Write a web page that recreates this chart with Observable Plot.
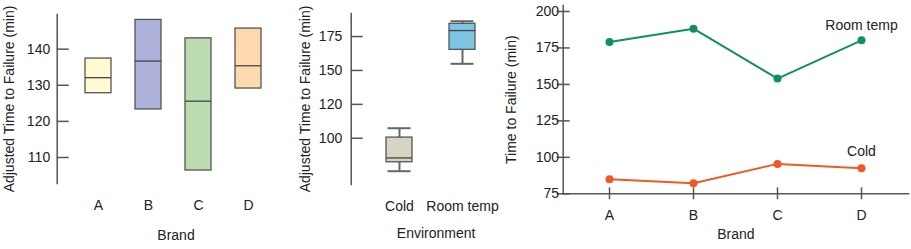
<!DOCTYPE html>
<html><head><meta charset="utf-8">
<script src="https://cdn.jsdelivr.net/npm/d3@7"></script>
<script src="https://cdn.jsdelivr.net/npm/@observablehq/plot@0.6"></script>
<style>
body{margin:0;background:#fff;}
#wrap{position:relative;width:911px;height:249px;overflow:hidden;}
#wrap > div{position:absolute;top:0;}
#p1{left:0;width:295px;} #p2{left:280px;width:241px;} #p3{left:490px;width:421px;}
</style></head><body><div id="wrap"><div id="p1"></div><div id="p2"></div><div id="p3"></div></div>
<script>
// ---- Panel 1: brand boxes (adjusted) ----
const brands = ["A", "B", "C", "D"];
const brandQ1 = [127.8, 123.3, 106.4, 129.1];
const brandMedian = [132.1, 136.7, 125.6, 135.4];
const brandQ3 = [137.4, 148.1, 143.0, 145.7];
const brandColors = ["#fffad2", "#aeb2da", "#b9dcb1", "#ffd9ae"];
const brandTicks = [110, 120, 130, 140];

// ---- Panel 2: environment boxplots ----
const envs = ["Cold", "Room temp"];
const envMin = [75.7, 154.9];
const envQ1 = [82.3, 165.2];
const envMedian = [85.5, 179.4];
const envQ3 = [100.5, 184.4];
const envMax = [107.4, 186.3];
const envColors = ["#d7d4c3", "#7ec4e3"];
const envTickValues = [100, 125, 150, 175];
const envTickLabels = ["100", "120", "150", "175"];

// ---- Panel 3: interaction plot ----
const series = ["Room temp", "Cold"];
const roomTemp = [179.1, 188.2, 154.0, 180.2];
const cold = [85.0, 82.3, 95.5, 92.5];
const seriesColors = ["#11905f", "#f05a22"];
const interTicks = [75, 100, 125, 150, 175, 200];

const FONT = '"Liberation Sans", Arial, sans-serif';
const axisColor = "#555";
const textColor = "#222";
const baseStyle = {fontSize: "14px", fontFamily: FONT, color: textColor, background: "transparent", overflow: "visible", maxWidth: "none"};

// Panel 1
const boxes1 = brands.map((b, i) => ({brand: b, q1: brandQ1[i], med: brandMedian[i], q3: brandQ3[i]}));
const p1 = Plot.plot({
  width: 295, height: 249, marginLeft: 56.7, marginRight: 0.7, marginTop: 14, marginBottom: 66,
  style: baseStyle,
  x: {type: "band", domain: brands, range: [73, 273], paddingInner: 0.48, paddingOuter: 0.24},
  y: {domain: [102.8, 149.6]},
  color: {type: "ordinal", domain: brands, range: brandColors},
  marks: [
    Plot.frame({anchor: "left", stroke: axisColor, strokeWidth: 1.5}),
    Plot.axisY({ticks: brandTicks, tickSize: 12, dx: 12, tickFormat: () => "", label: null, stroke: axisColor, strokeWidth: 1.5}),
    Plot.axisY({ticks: brandTicks, tickSize: 0, tickPadding: 7, label: "Adjusted Time to Failure (min)", labelAnchor: "center", labelOffset: 53, labelArrow: "none", fill: textColor}),
    Plot.axisX({tickSize: 0, tickPadding: 17, label: "Brand", labelAnchor: "center", labelOffset: 56, fill: textColor}),
    Plot.rectY(boxes1, {x: "brand", y1: "q1", y2: "q3", fill: "brand", stroke: "#555", strokeWidth: 1.3}),
    Plot.tickY(boxes1, {x: "brand", y: "med", stroke: "#444", strokeWidth: 1.3})
  ]
});
document.getElementById("p1").append(p1);

// Panel 2
const boxes2 = envs.map((e, i) => ({env: e, min: envMin[i], q1: envQ1[i], med: envMedian[i], q3: envQ3[i], max: envMax[i]}));
const p2 = Plot.plot({
  width: 241, height: 249, marginLeft: 70.7, marginRight: 0.5, marginTop: 13, marginBottom: 65,
  style: baseStyle,
  x: {type: "band", domain: envs, range: [87.5, 213.5], paddingInner: 0.587, paddingOuter: 0.2935},
  y: {domain: [65.9, 192]},
  color: {type: "ordinal", domain: envs, range: envColors},
  marks: [
    Plot.frame({anchor: "left", stroke: axisColor, strokeWidth: 1.5}),
    Plot.axisY({ticks: envTickValues, tickSize: 12, dx: 12, tickFormat: () => "", label: null, stroke: axisColor, strokeWidth: 1.5}),
    Plot.axisY({ticks: envTickValues, tickSize: 0, tickPadding: 9, tickFormat: (d) => envTickLabels[envTickValues.indexOf(d)], label: "Adjusted Time to Failure (min)", labelAnchor: "center", labelOffset: 51, labelArrow: "none", fill: textColor}),
    Plot.axisX({tickSize: 0, tickPadding: 17, label: "Environment", labelAnchor: "center", labelOffset: 53, fill: textColor}),
    Plot.ruleX(boxes2, {x: "env", y1: "q3", y2: "max", stroke: "#666", strokeWidth: 2}),
    Plot.ruleX(boxes2, {x: "env", y1: "min", y2: "q1", stroke: "#666", strokeWidth: 2}),
    Plot.tickY(boxes2, {x: "env", y: "max", stroke: "#666", strokeWidth: 2, insetLeft: 1.5, insetRight: 1.5}),
    Plot.tickY(boxes2, {x: "env", y: "min", stroke: "#666", strokeWidth: 2, insetLeft: 1.5, insetRight: 1.5}),
    Plot.rectY(boxes2, {x: "env", y1: "q1", y2: "q3", fill: "env", stroke: "#555", strokeWidth: 1.3}),
    Plot.tickY(boxes2, {x: "env", y: "med", stroke: "#444", strokeWidth: 1.3})
  ]
});
document.getElementById("p2").append(p2);

// Panel 3
const lineData = [
  ...brands.map((b, i) => ({brand: b, series: series[0], t: roomTemp[i]})),
  ...brands.map((b, i) => ({brand: b, series: series[1], t: cold[i]}))
];
const lastRoom = lineData.filter(d => d.series === series[0] && d.brand === brands[brands.length - 1]);
const lastCold = lineData.filter(d => d.series === series[1] && d.brand === brands[brands.length - 1]);
const p3 = Plot.plot({
  width: 421, height: 249, marginLeft: 72.7, marginRight: 3, marginTop: 5, marginBottom: 55.7,
  style: baseStyle,
  x: {type: "point", domain: brands, padding: 0.54},
  y: {domain: [75, 204.1]},
  color: {domain: series, range: seriesColors},
  marks: [
    Plot.frame({anchor: "left", stroke: axisColor, strokeWidth: 1.5}),
    Plot.frame({anchor: "bottom", stroke: axisColor, strokeWidth: 1.5}),
    Plot.axisY({ticks: interTicks, tickSize: 13, dx: 7, tickFormat: () => "", label: null, stroke: axisColor, strokeWidth: 1.5}),
    Plot.axisY({ticks: interTicks, tickSize: 0, tickPadding: 4.2, label: "Time to Failure (min)", labelAnchor: "center", labelOffset: 57.5, labelArrow: "none", fill: textColor}),
    Plot.axisX({tickSize: 12, dy: -6, tickFormat: () => "", label: null, stroke: axisColor, strokeWidth: 1.5}),
    Plot.axisX({tickSize: 0, tickPadding: 16, label: "Brand", labelAnchor: "center", labelOffset: 45, fill: textColor}),
    Plot.line(lineData, {x: "brand", y: "t", z: "series", stroke: "series", strokeWidth: 2}),
    Plot.dot(lineData, {x: "brand", y: "t", fill: "series", r: 4}),
    Plot.text(lastRoom, {x: "brand", y: "t", text: "series", dy: -15, fill: textColor}),
    Plot.text(lastCold, {x: "brand", y: "t", text: "series", dy: -17, fill: textColor})
  ]
});
document.getElementById("p3").append(p3);
</script></body></html>
